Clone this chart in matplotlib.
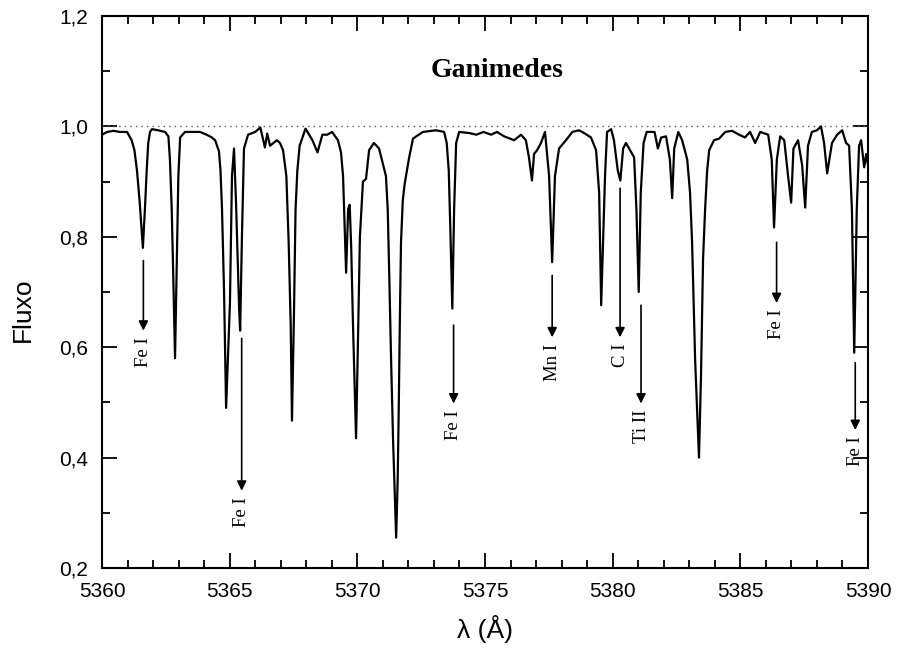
import matplotlib.pyplot as plt
from matplotlib.ticker import MultipleLocator, FixedLocator

# spectrum of Ganimedes, normalised flux vs wavelength (Angstrom)
wavelength = [
    5360.00, 5360.20, 5360.45, 5360.70, 5360.98, 5361.16, 5361.27, 5361.37, 5361.48, 5361.60,
    5361.68, 5361.75, 5361.81, 5361.88, 5361.96, 5362.20, 5362.47, 5362.60, 5362.66, 5362.73,
    5362.79, 5362.86, 5362.92, 5362.99, 5363.06, 5363.25, 5363.57, 5363.84, 5364.10, 5364.30,
    5364.43, 5364.58, 5364.64, 5364.70, 5364.78, 5364.86, 5365.01, 5365.09, 5365.17, 5365.25,
    5365.37, 5365.41, 5365.48, 5365.56, 5365.72, 5366.00, 5366.20, 5366.38, 5366.47, 5366.58,
    5366.85, 5366.97, 5367.09, 5367.22, 5367.31, 5367.39, 5367.44, 5367.52, 5367.58, 5367.65,
    5367.74, 5367.97, 5368.24, 5368.44, 5368.63, 5368.82, 5369.01, 5369.24, 5369.36, 5369.44,
    5369.56, 5369.64, 5369.70, 5369.76, 5369.83, 5369.95, 5370.02, 5370.10, 5370.22, 5370.34,
    5370.46, 5370.65, 5370.85, 5371.12, 5371.19, 5371.25, 5371.32, 5371.40, 5371.52, 5371.58,
    5371.62, 5371.67, 5371.71, 5371.78, 5371.85, 5372.03, 5372.18, 5372.57, 5373.08, 5373.40,
    5373.50, 5373.58, 5373.65, 5373.72, 5373.79, 5373.87, 5373.99, 5374.38, 5374.66, 5374.94,
    5375.24, 5375.47, 5375.75, 5376.14, 5376.41, 5376.60, 5376.72, 5376.84, 5376.92, 5377.04,
    5377.19, 5377.35, 5377.51, 5377.63, 5377.74, 5377.90, 5378.17, 5378.42, 5378.68, 5378.88,
    5379.15, 5379.35, 5379.47, 5379.55, 5379.70, 5379.78, 5379.94, 5380.05, 5380.20, 5380.30,
    5380.41, 5380.52, 5380.68, 5380.84, 5380.93, 5381.02, 5381.10, 5381.21, 5381.33, 5381.64,
    5381.77, 5381.90, 5382.09, 5382.24, 5382.33, 5382.41, 5382.57, 5382.72, 5382.92, 5383.03,
    5383.11, 5383.23, 5383.38, 5383.46, 5383.54, 5383.62, 5383.70, 5383.78, 5383.97, 5384.17,
    5384.41, 5384.68, 5384.95, 5385.18, 5385.38, 5385.58, 5385.78, 5386.09, 5386.23, 5386.32,
    5386.43, 5386.56, 5386.72, 5386.87, 5386.99, 5387.08, 5387.26, 5387.42, 5387.54, 5387.65,
    5387.80, 5388.00, 5388.16, 5388.28, 5388.40, 5388.59, 5388.79, 5388.99, 5389.14, 5389.26,
    5389.37, 5389.46, 5389.56, 5389.65, 5389.73, 5389.85, 5389.93, 5390.00,
]
flux = [
    0.985, 0.990, 0.992, 0.990, 0.990, 0.975, 0.957, 0.920, 0.860, 0.780,
    0.850, 0.920, 0.970, 0.990, 0.995, 0.993, 0.990, 0.982, 0.940, 0.850,
    0.730, 0.580, 0.730, 0.910, 0.980, 0.990, 0.990, 0.990, 0.985, 0.980,
    0.975, 0.955, 0.920, 0.850, 0.700, 0.490, 0.680, 0.910, 0.960, 0.860,
    0.670, 0.630, 0.800, 0.960, 0.985, 0.990, 0.998, 0.962, 0.987, 0.965,
    0.975, 0.970, 0.957, 0.910, 0.790, 0.640, 0.467, 0.667, 0.850, 0.920,
    0.965, 0.996, 0.975, 0.953, 0.985, 0.985, 0.990, 0.975, 0.953, 0.910,
    0.735, 0.850, 0.858, 0.780, 0.640, 0.435, 0.600, 0.800, 0.900, 0.905,
    0.957, 0.970, 0.960, 0.910, 0.850, 0.730, 0.580, 0.430, 0.255, 0.360,
    0.485, 0.667, 0.790, 0.866, 0.895, 0.944, 0.978, 0.990, 0.993, 0.990,
    0.970, 0.920, 0.800, 0.670, 0.850, 0.970, 0.990, 0.988, 0.985, 0.990,
    0.985, 0.990, 0.982, 0.975, 0.985, 0.975, 0.944, 0.902, 0.950, 0.957,
    0.970, 0.990, 0.910, 0.754, 0.910, 0.960, 0.975, 0.990, 0.993, 0.988,
    0.980, 0.957, 0.880, 0.676, 0.910, 0.990, 0.995, 0.975, 0.920, 0.902,
    0.960, 0.970, 0.957, 0.944, 0.850, 0.700, 0.880, 0.970, 0.990, 0.990,
    0.960, 0.980, 0.982, 0.940, 0.870, 0.960, 0.990, 0.975, 0.940, 0.880,
    0.790, 0.576, 0.400, 0.550, 0.760, 0.850, 0.920, 0.957, 0.975, 0.978,
    0.990, 0.992, 0.985, 0.980, 0.990, 0.970, 0.990, 0.985, 0.940, 0.817,
    0.940, 0.982, 0.975, 0.910, 0.862, 0.960, 0.975, 0.930, 0.853, 0.965,
    0.990, 0.993, 1.000, 0.970, 0.915, 0.970, 0.985, 0.993, 0.970, 0.965,
    0.850, 0.590, 0.850, 0.965, 0.975, 0.926, 0.950, 0.930,
]

# identified lines: label, wavelength, arrow start, arrow tip
line_ids = ['Fe I', 'Fe I', 'Fe I', 'Mn I', 'C I', 'Ti II', 'Fe I', 'Fe I']
line_wl = [5361.62, 5365.47, 5373.77, 5377.63, 5380.29, 5381.11, 5386.42, 5389.50]
arrow_top = [0.757, 0.616, 0.640, 0.730, 0.888, 0.676, 0.790, 0.572]
arrow_tip = [0.630, 0.340, 0.498, 0.618, 0.618, 0.498, 0.680, 0.450]

yticks = [0.2, 0.4, 0.6, 0.8, 1.0, 1.2]
ytick_labels = ['0,2', '0,4', '0,6', '0,8', '1,0', '1,2']
xticks = [5360, 5365, 5370, 5375, 5380, 5385, 5390]

fig = plt.figure(figsize=(8.98, 6.57), dpi=100)
ax = fig.add_axes([0.1136, 0.1355, 0.853, 0.8401])

ax.axhline(1.0, color='0.35', linestyle=(0, (1, 3)), linewidth=1.0)
ax.plot(wavelength, flux, color='black', linewidth=1.6)

for name, wl, top, tip in zip(line_ids, line_wl, arrow_top, arrow_tip):
    ax.annotate('', xy=(wl, tip), xytext=(wl, top),
                arrowprops=dict(arrowstyle='-|>', color='black', lw=1.2,
                                mutation_scale=14, shrinkA=0, shrinkB=0))
    ax.text(wl, tip - 0.012, name, rotation=90, ha='center', va='top',
            family='Liberation Serif', fontsize=13.5)

ax.text(5375.47, 1.101, 'Ganimedes', ha='center', va='center',
        family='Liberation Serif', fontweight='bold', fontsize=20)

ax.set_xlim(5360, 5390)
ax.set_ylim(0.2, 1.2)
ax.xaxis.set_major_locator(FixedLocator(xticks))
ax.xaxis.set_minor_locator(MultipleLocator(1))
ax.yaxis.set_major_locator(FixedLocator(yticks))
ax.yaxis.set_minor_locator(MultipleLocator(0.1))
ax.set_yticklabels(ytick_labels)

ax.tick_params(which='both', direction='in', top=True, right=True, width=1.3)
ax.tick_params(which='major', length=11, labelsize=15, pad=10)
ax.tick_params(which='minor', length=6)
for lab in ax.get_xticklabels() + ax.get_yticklabels():
    lab.set_family('Liberation Sans')
for sp in ax.spines.values():
    sp.set_linewidth(1.5)

ax.set_xlabel('λ (Å)', family='Liberation Sans', fontsize=19, labelpad=10)
fig.text(23 / 898, 1 - 310 / 657, 'Fluxo', rotation=90, ha='center', va='center',
         family='Liberation Sans', fontsize=19)

fig.savefig('out.png', dpi=100)
